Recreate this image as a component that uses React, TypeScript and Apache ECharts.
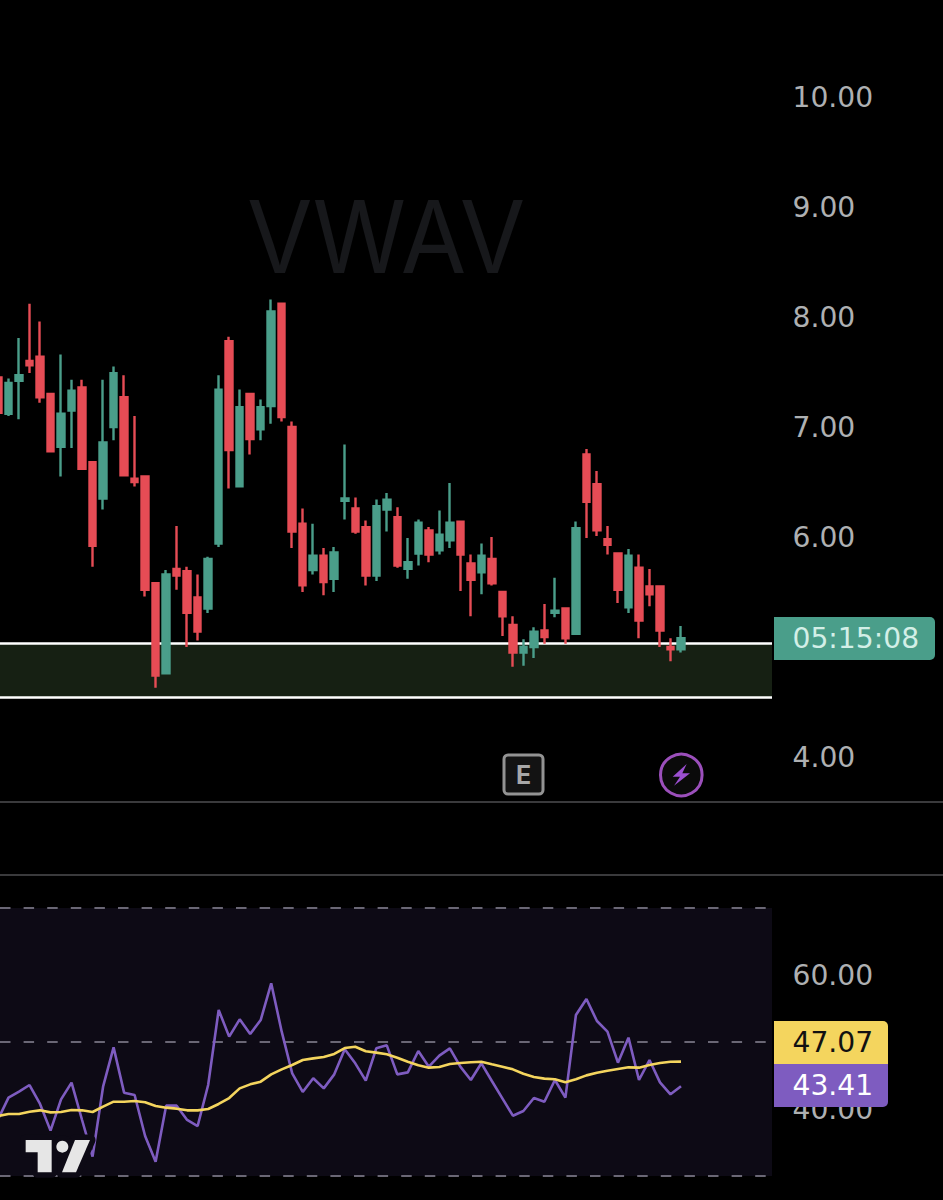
import React, { useEffect, useRef } from "react";
import * as echarts from "echarts";

const opens = [7.45,7.12,7.42,7.60,7.64,7.30,6.82,7.15,7.36,6.68,6.35,7.00,7.27,6.53,6.55,5.58,4.76,5.71,5.69,5.45,5.35,5.94,7.78,6.46,7.30,6.98,7.19,8.12,7.00,6.12,5.70,5.83,5.62,6.33,6.26,6.09,5.65,6.25,6.18,5.71,5.85,6.06,5.88,5.97,6.14,5.76,5.68,5.80,5.50,5.20,4.95,5.00,5.15,5.31,5.35,5.12,6.75,6.48,5.98,5.85,5.36,5.72,5.55,5.55,5.00,4.98];
const closes = [7.13,7.40,7.47,7.56,7.27,6.78,7.12,7.33,6.62,5.92,6.86,7.49,6.56,6.50,5.52,4.74,5.66,5.65,5.31,5.14,5.80,7.34,6.79,7.18,6.89,7.18,8.05,7.09,6.05,5.56,5.83,5.59,5.86,6.35,6.05,5.65,6.28,6.34,5.74,5.77,6.13,5.84,6.02,6.13,5.84,5.61,5.83,5.58,5.28,4.95,5.00,5.14,5.09,5.33,5.08,6.08,6.32,6.06,5.93,5.52,5.83,5.24,5.48,5.15,4.98,5.08];
const lows = [7.10,7.10,7.07,7.49,7.22,6.77,6.55,6.81,6.61,5.73,6.25,6.88,6.55,6.46,5.46,4.63,4.75,5.52,5.00,5.06,5.31,5.91,6.44,6.46,6.75,6.88,7.03,7.05,5.90,5.50,5.66,5.47,5.50,6.16,6.03,5.56,5.60,6.05,5.72,5.62,5.74,5.77,5.84,5.90,5.51,5.28,5.48,5.56,5.10,4.82,4.83,4.90,5.03,5.27,5.03,5.11,5.99,6.01,5.84,5.40,5.31,5.08,5.37,5.00,4.87,4.95];
const highs = [7.52,7.44,7.81,8.12,7.96,7.30,7.66,7.43,7.43,6.68,7.43,7.55,7.47,7.10,6.56,5.58,5.70,6.10,5.73,5.66,5.82,7.47,7.82,7.34,7.30,7.25,8.16,8.12,7.05,6.26,6.12,5.90,5.91,6.84,6.36,6.15,6.34,6.40,6.27,5.99,6.16,6.09,6.24,6.49,6.14,5.84,5.94,6.00,5.50,5.28,5.07,5.18,5.39,5.63,5.35,6.14,6.80,6.60,6.10,5.85,5.89,5.84,5.71,5.55,5.08,5.19];

const rsi = [38.46,41.69,42.59,43.58,40.75,36.77,41.44,43.93,38.36,32.89,43.33,49.20,42.44,42.09,35.97,32.14,40.50,40.50,38.36,37.46,43.58,54.78,50.80,53.38,51.19,53.28,58.76,51.54,45.32,42.54,44.58,43.08,45.17,48.91,46.82,44.23,49.05,49.50,45.17,45.47,48.66,46.32,47.96,49.05,46.32,44.33,46.82,44.18,41.59,39.00,39.70,41.64,41.09,44.33,41.69,54.03,56.42,53.13,51.54,46.92,50.65,44.33,47.31,43.98,42.19,43.41];
const rsiMa = [38.96,39.25,39.25,39.60,39.80,39.50,39.55,39.85,39.80,39.55,40.35,41.09,41.09,41.19,41.00,40.45,40.20,40.05,39.80,39.80,40.00,40.75,41.64,43.08,43.68,44.08,45.17,45.92,46.57,47.31,47.56,47.76,48.21,49.10,49.30,48.61,48.41,48.16,47.66,47.06,46.52,46.17,46.27,46.72,46.87,46.97,47.06,46.67,46.32,45.92,45.27,44.78,44.53,44.43,43.98,44.43,45.02,45.42,45.72,45.97,46.22,46.17,46.57,46.87,47.06,47.07];

const priceTicksHidden = [5];
const rsiTicksShown = [40, 60];
const ZONE_TOP = 5.027;
const ZONE_BOTTOM = 4.545;
const RSI_LEVELS = [70, 50, 30];
const COUNTDOWN = "05:15:08";
const MA_LABEL = "47.07";
const RSI_LABEL = "43.41";
const TICKER = "VWAV";

const GREEN = "#4a9e8a";
const RED = "#e64c55";
const PURPLE = "#7e5cc0";
const YELLOW = "#f4d55e";
const AXIS_TEXT = "#aeb0b2";
const PANE = "#0d0a15";
const FONT = "'DejaVu Sans'";
const FONT_SIZE = 28.2;

const candleData = opens.map((o, i) => [i, o, closes[i], lows[i], highs[i]]);
const withIndex = (a: number[]) => a.map((v, i) => [i, v]);

const X_MIN = 0.19;
const X_MAX = 73.66;

function tvPts(p: number[][]) {
  return p.map(([x, y]) => [x / 3, 960 + y / 3]);
}

function boltPts(p: number[][]) {
  return p.map(([x, y]) => [650 + x / 3, 745 + y / 3]);
}

export default function App() {
  const ref = useRef<HTMLDivElement>(null);
  useEffect(() => {
    document.body.style.margin = "0";
    document.body.style.background = "#000";
    const chart = echarts.init(ref.current!, null, { renderer: "svg" });
    const tSlash = tvPts([[225, 540], [270, 540], [228, 637], [186, 637]]);
    const tBar = tvPts([[77, 540], [155, 540], [155, 637], [113, 637], [113, 577], [77, 577]]);
    const badge = (x: number, y: number, w: number, h: number, fill: string, text: string, color: string, r: number[]) => [
      { type: "rect", z: 100, shape: { x, y, width: w, height: h, r }, style: { fill } },
      { type: "text", z: 101, style: { x: 792.5, y: y + h / 2, text, fill: color, font: `400 ${FONT_SIZE}px ${FONT}`, textVerticalAlign: "middle", textAlign: "left" } },
    ];
    chart.setOption({
      animation: false,
      backgroundColor: "#000",
      grid: [
        { left: 0, top: 97, width: 772, height: 660 },
        { left: 0, top: 908, width: 772, height: 268 },
      ],
      xAxis: [
        { type: "value", gridIndex: 0, min: X_MIN, max: X_MAX, show: false },
        { type: "value", gridIndex: 1, min: X_MIN, max: X_MAX, show: false },
      ],
      yAxis: [
        {
          type: "value", gridIndex: 0, position: "right", min: 4, max: 10, interval: 1,
          axisLine: { show: false }, axisTick: { show: false }, splitLine: { show: false },
          axisLabel: { margin: 20.5, color: AXIS_TEXT, fontFamily: "DejaVu Sans", fontSize: FONT_SIZE,
            formatter: (v: number) => (priceTicksHidden.includes(v) ? "" : v.toFixed(2)) },
        },
        {
          type: "value", gridIndex: 1, position: "right", min: 30, max: 70, interval: 10,
          axisLine: { show: false }, axisTick: { show: false }, splitLine: { show: false },
          axisLabel: { margin: 20.5, color: AXIS_TEXT, fontFamily: "DejaVu Sans", fontSize: FONT_SIZE,
            formatter: (v: number) => (rsiTicksShown.includes(v) ? v.toFixed(2) : "") },
        },
      ],
      series: [
        {
          type: "candlestick", xAxisIndex: 0, yAxisIndex: 0, barWidth: 7,
          encode: { x: 0, y: [1, 2, 3, 4] },
          itemStyle: { color: GREEN, color0: RED, borderColor: GREEN, borderColor0: RED, borderWidth: 2.4 },
          data: candleData,
          markArea: {
            silent: true, itemStyle: { color: "#162013" },
            data: [[{ yAxis: ZONE_TOP }, { yAxis: ZONE_BOTTOM }]],
          },
          markLine: {
            silent: true, z: 1, symbol: "none", label: { show: false },
            lineStyle: { color: "#ffffff", width: 2.5, type: "solid" },
            data: [{ yAxis: ZONE_TOP }, { yAxis: ZONE_BOTTOM }],
          },
        },
        {
          type: "line", xAxisIndex: 1, yAxisIndex: 1, data: withIndex(rsi), showSymbol: false, z: 3,
          lineStyle: { color: PURPLE, width: 2.6 },
          markArea: {
            silent: true, itemStyle: { color: PANE },
            data: [[{ yAxis: 70 }, { yAxis: 30 }]],
          },
          markLine: {
            silent: true, z: 1, symbol: "none", label: { show: false },
            lineStyle: { color: "#6a6775", width: 2, type: [10.5, 13.1] },
            data: RSI_LEVELS.map((v) => ({ yAxis: v })),
          },
        },
        {
          type: "line", xAxisIndex: 1, yAxisIndex: 1, data: withIndex(rsiMa), showSymbol: false, z: 4,
          lineStyle: { color: YELLOW, width: 2.6 },
        },
      ],
      graphic: [
        { type: "text", z: 1, x: 247, y: 236, scaleX: 0.94, style: { x: 0, y: 0, text: TICKER, fill: "#17181b", font: `400 101px Inter`, textVerticalAlign: "middle", textAlign: "left" } },
        { type: "line", z: 1, shape: { x1: 0, y1: 802, x2: 943, y2: 802 }, style: { stroke: "#3a3a3c", lineWidth: 2 } },
        { type: "line", z: 1, shape: { x1: 0, y1: 875, x2: 943, y2: 875 }, style: { stroke: "#3a3a3c", lineWidth: 2 } },
        ...badge(774, 617, 161, 43, GREEN, COUNTDOWN, "#d3efe7", [0, 5, 5, 0]),
        ...badge(774, 1021, 114, 43, YELLOW, MA_LABEL, "#111111", [0, 5, 0, 0]),
        ...badge(774, 1064, 114, 43, PURPLE, RSI_LABEL, "#ffffff", [0, 0, 5, 0]),
        { type: "rect", z: 100, shape: { x: 504, y: 755, width: 39, height: 39, r: 4 }, style: { fill: "#131313", stroke: "#939393", lineWidth: 3 } },
        { type: "text", z: 101, style: { x: 523.5, y: 775, text: "E", fill: "#a8a8a8", font: `700 25px Inter`, textAlign: "center", textVerticalAlign: "middle" } },
        { type: "circle", z: 100, shape: { cx: 681.3, cy: 775, r: 20.8 }, style: { fill: "#0a0a0a", stroke: "#9b4fbb", lineWidth: 3 } },
        { type: "polygon", z: 101, shape: { points: boltPts([[110, 57], [68, 95], [90, 95], [72, 122], [120, 85], [97, 85]]) }, style: { fill: "#9b4fd0" } },
        { type: "polygon", z: 50, shape: { points: tSlash }, style: { fill: PANE, stroke: PANE, lineWidth: 11, lineJoin: "round" } },
        { type: "polygon", z: 50, shape: { points: tBar }, style: { fill: PANE, stroke: PANE, lineWidth: 11, lineJoin: "round" } },
        { type: "circle", z: 50, shape: { cx: 187 / 3, cy: 960 + 560 / 3, r: 11.5 }, style: { fill: PANE } },
        { type: "polygon", z: 51, shape: { points: tBar }, style: { fill: "#e6e6e6" } },
        { type: "polygon", z: 51, shape: { points: tSlash }, style: { fill: "#e6e6e6" } },
        { type: "circle", z: 51, shape: { cx: 187 / 3, cy: 960 + 560 / 3, r: 6 }, style: { fill: "#e6e6e6" } },
      ],
    });
    return () => chart.dispose();
  }, []);
  return <div ref={ref} style={{ position: "absolute", left: 0, top: 0, width: 943, height: 1200 }} />;
}
